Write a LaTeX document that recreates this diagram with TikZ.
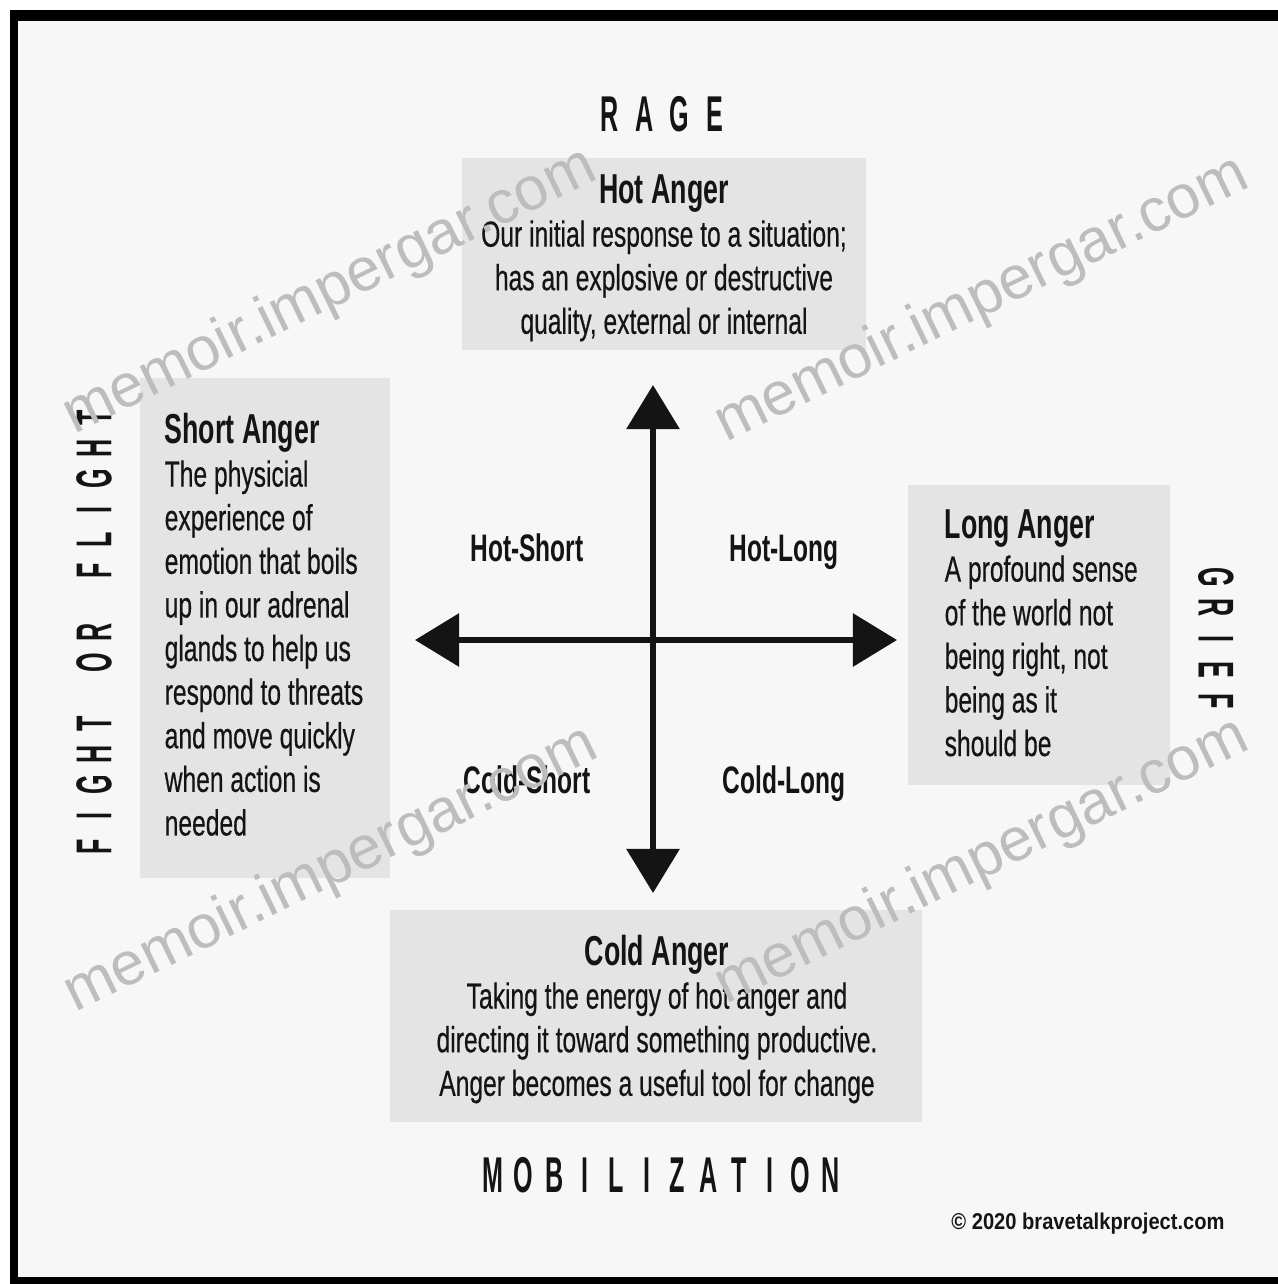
\documentclass[tikz,border=0pt]{standalone}
\usepackage{fontspec}
\setmainfont{Liberation Sans}
\usetikzlibrary{arrows.meta}
\newfontfamily\capsf[FakeStretch=0.5]{Liberation Sans}
\newfontfamily\headf[FakeStretch=0.64]{Liberation Sans}
\newfontfamily\bodyf[FakeStretch=0.68,FakeBold=0.4]{Liberation Sans}
\newfontfamily\copyf[FakeStretch=0.88]{Liberation Sans}
\newfontfamily\wmf{Liberation Sans}
\definecolor{bg}{HTML}{F7F7F7}
\definecolor{boxc}{HTML}{E4E4E4}
\definecolor{ink}{HTML}{141414}
\definecolor{wm}{HTML}{BDBDBD}
\makeatletter
\newcommand\spreadtext[2]{\@tfor\sp@lt:=#2\do{\makebox[#1]{\sp@lt}}}
\makeatother
\newcommand\bodysize{\bodyf\fontsize{10.3}{12.4}\selectfont}
\newcommand\headsize{\headf\bfseries\fontsize{11.9}{12.4}\selectfont}
\begin{document}
\begin{tikzpicture}[x=0.01cm,y=-0.01cm,
  greybox/.style={fill=boxc, draw=none, inner sep=0pt},
  txt/.style={inner sep=0pt, text=ink},
  capslbl/.style={inner sep=0pt, text=ink, font=\capsf\bfseries\fontsize{14.3}{16}\selectfont},
  quadlbl/.style={inner sep=0pt, text=ink, anchor=base, font=\headf\bfseries\fontsize{10.9}{12}\selectfont},
  wmark/.style={inner sep=0pt, text=wm, rotate=26, font=\wmf\fontsize{17.3}{18}\selectfont},
  axisline/.style={line width=0.06cm, draw=ink,
    {Triangle[length=0.44cm,width=0.52cm]}-{Triangle[length=0.44cm,width=0.52cm]}}]
\useasboundingbox (0,0) rectangle (1278,1284);
\fill[white] (0,0) rectangle (1278,1284);
\fill[black] (10,10) rectangle (1278,1284);
\fill[bg] (18,21) rectangle (1278,1277);

% boxes
\node[greybox, minimum width=4.04cm, minimum height=1.92cm] (hotbox) at (664,254) {};
\node[greybox, minimum width=2.50cm, minimum height=5.00cm] (shortbox) at (265,628) {};
\node[greybox, minimum width=2.62cm, minimum height=3.00cm] (longbox) at (1039,635) {};
\node[greybox, minimum width=5.32cm, minimum height=2.12cm] (coldbox) at (656,1016) {};

% box texts
\node[txt, anchor=base] (hottxt) at (664,203) {\parbox[t]{4cm}{\bodysize\centering
  {\headsize Hot Anger}\\
  Our initial response to a situation;\\
  has an explosive or destructive\\
  quality, external or internal}};
\node[txt, anchor=base west] (shorttxt) at (164,443) {\parbox[t]{2.3cm}{\bodysize\raggedright
  {\headsize Short Anger}\\
  The physicial\\
  experience of\\
  emotion that boils\\
  up in our adrenal\\
  glands to help us\\
  respond to threats\\
  and move quickly\\
  when action is\\
  needed}};
\node[txt, anchor=base west] (longtxt) at (944,538) {\parbox[t]{2.3cm}{\bodysize\raggedright
  {\headsize Long Anger}\\
  A profound sense\\
  of the world not\\
  being right, not\\
  being as it\\
  should be}};
\node[txt, anchor=base] (coldtxt) at (657,965) {\parbox[t]{5.3cm}{\bodysize\centering
  {\headsize Cold Anger}\\
  Taking the energy of hot anger and\\
  directing it toward something productive.\\
  Anger becomes a useful tool for change}};

% axis labels
\node[capslbl] (rage) at (662,114) {\spreadtext{0.35cm}{RAGE}};
\node[capslbl] (mob) at (662,1175) {\spreadtext{0.307cm}{MOBILIZATION}};
\node[capslbl, rotate=90] (fof) at (94,632) {\spreadtext{0.306cm}{FIGHT{ }OR{ }FLIGHT}};
\node[capslbl, rotate=-90] (grief) at (1216,639) {\spreadtext{0.31cm}{GRIEF}};

% quadrant labels
\node[quadlbl] (hs) at (527,561) {Hot-Short};
\node[quadlbl] (hl) at (784,561) {Hot-Long};
\node[quadlbl] (cs) at (527,793) {Cold-Short};
\node[quadlbl] (cl) at (784,793) {Cold-Long};

% axes
\coordinate (vtop) at (653,385);
\coordinate (vbot) at (653,893);
\coordinate (hleft) at (415,640);
\coordinate (hright) at (897,640);
\draw[axisline] (vtop) -- (vbot);
\draw[axisline] (hleft) -- (hright);

% copyright
\node[txt, font=\copyf\bfseries\fontsize{6.5}{7}\selectfont] (copy) at (1088,1224) {\copyright{} 2020 bravetalkproject.com};

% watermarks
\node[wmark] (wm1) at (330,292) {memoir.impergar.com};
\node[wmark] (wm2) at (982,300) {memoir.impergar.com};
\node[wmark] (wm3) at (331,870) {memoir.impergar.com};
\node[wmark] (wm4) at (982,862) {memoir.impergar.com};
\end{tikzpicture}
\end{document}
